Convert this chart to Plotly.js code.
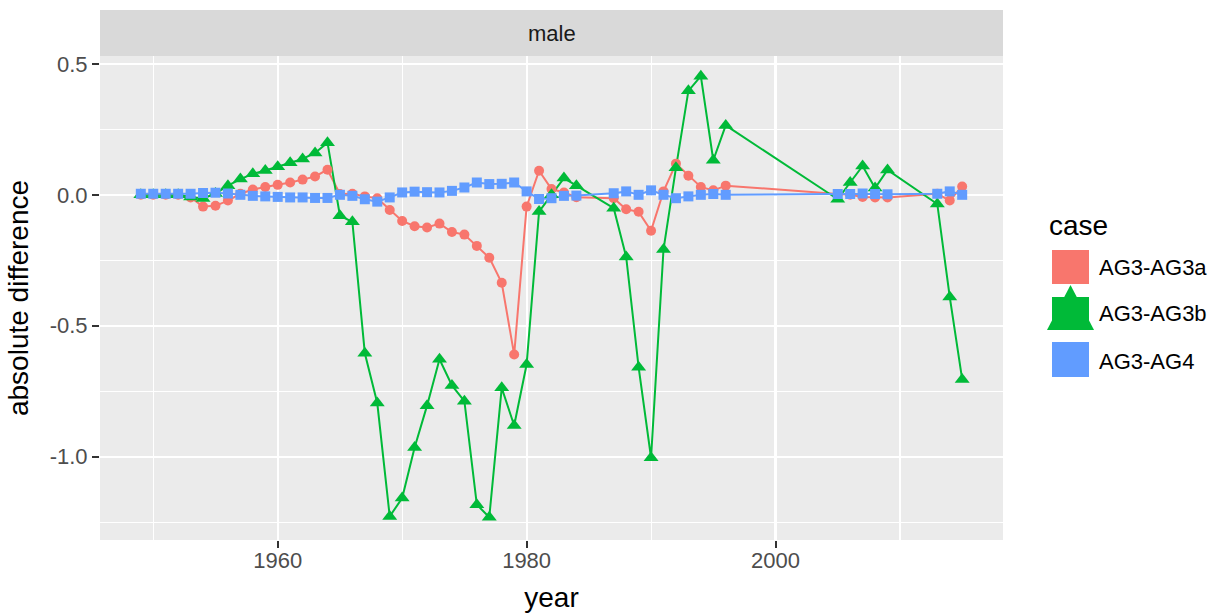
<!DOCTYPE html>
<html>
<head>
<meta charset="utf-8">
<script src="https://cdn.plot.ly/plotly-3.0.1.min.js"></script>
<style>html,body{margin:0;padding:0;background:#fff;}#chart{width:1223px;height:613px;}</style>
</head>
<body>
<div id="chart"></div>
<script>
var years = [1949,1950,1951,1952,1953,1954,1955,1956,1957,1958,1959,1960,1961,1962,1963,1964,
  1965,1966,1967,1968,1969,1970,1971,1972,1973,1974,1975,1976,1977,1978,1979,1980,1981,1982,1983,1984,
  1987,1988,1989,1990,1991,1992,1993,1994,1995,1996,
  2005,2006,2007,2008,2009,2013,2014,2015];

var ag3a = [0,0,0,0,-0.01,-0.045,-0.042,-0.022,0.004,0.02,0.03,0.038,0.047,0.058,0.07,0.096,
  0.003,0.004,-0.006,-0.013,-0.058,-0.1,-0.12,-0.125,-0.11,-0.142,-0.152,-0.195,-0.24,-0.336,-0.61,-0.045,0.092,0.022,0.009,-0.009,
  -0.013,-0.055,-0.065,-0.137,0.013,0.119,0.073,0.03,0.017,0.035,
  0.003,0,-0.008,-0.01,-0.01,0.004,-0.022,0.032];

var ag3b = [0,0,0,0,-0.008,-0.014,0.005,0.035,0.06,0.08,0.093,0.107,0.122,0.137,0.16,0.199,
  -0.08,-0.103,-0.605,-0.795,-1.228,-1.158,-0.965,-0.805,-0.628,-0.728,-0.788,-1.183,-1.231,-0.737,-0.881,-0.648,-0.064,0.0,0.064,0.035,
  -0.051,-0.237,-0.658,-1.004,-0.209,0.103,0.397,0.453,0.132,0.265,
  -0.017,0.047,0.11,0.026,0.095,-0.035,-0.39,-0.705];

var ag4 = [0.004,0.004,0.004,0.004,0.004,0.007,0.008,0.005,0.0,-0.004,-0.006,-0.008,-0.01,-0.01,-0.012,-0.012,
  0.0,-0.004,-0.017,-0.026,-0.01,0.009,0.012,0.01,0.009,0.015,0.028,0.047,0.041,0.042,0.047,0.013,-0.016,-0.013,-0.004,-0.003,
  0.006,0.013,0.0,0.017,0.0,-0.013,-0.006,0.0,0.003,0.0,
  0.003,0.003,0.005,0.003,0.002,0.004,0.013,0.0];

var caseNames = ["AG3-AG3a","AG3-AG3b","AG3-AG4"];
var caseColors = ["#F8766D","#00BA38","#619CFF"];
var caseSymbols = ["circle","triangle-up","square"];
var caseSizes = [10,13,10];
var caseValues = [ag3a, ag3b, ag4];

var xTicks = [1960,1980,2000];
var xMinor = [1950,1970,1990,2010];
var yTicks = [0.5,0,-0.5,-1.0];
var yTickText = ["0.5","0.0","-0.5","-1.0"];
var yMinor = [0.25,-0.25,-0.75,-1.25];
var facetLabel = "male";
var legendTitle = "case";

var FONT = "Liberation Sans, Arial, Helvetica, sans-serif";
var traces = [];
for (var i = 0; i < 3; i++) {
  traces.push({x: years, y: caseValues[i], type: "scatter", mode: "lines",
    line: {color: caseColors[i], width: 2}, showlegend: false, hoverinfo: "skip"});
}
for (var i = 0; i < 3; i++) {
  traces.push({x: years, y: caseValues[i], type: "scatter", mode: "markers", name: caseNames[i],
    marker: {color: caseColors[i], symbol: caseSymbols[i], size: caseSizes[i], line: {width: 0}},
    showlegend: false});
}

var L = 100, R = 1003, T = 56, B = 540;
function px(x) { return (x - L) / (R - L); }
function py(y) { return (B - y) / (B - T); }

var shapes = [
  {type: "rect", xref: "paper", yref: "paper", x0: 0, x1: 1, y0: 1, y1: py(10), fillcolor: "#D9D9D9", line: {width: 0}, layer: "below"},
  {type: "rect", xref: "paper", yref: "paper", x0: px(1052), x1: px(1089), y0: py(284), y1: py(250), fillcolor: caseColors[0], line: {width: 0}},
  {type: "rect", xref: "paper", yref: "paper", x0: px(1052), x1: px(1089), y0: py(329), y1: py(297), fillcolor: caseColors[1], line: {width: 0}},
  {type: "path", xref: "paper", yref: "paper",
    path: "M" + px(1047) + "," + py(330) + " L" + px(1070.5) + "," + py(285) + " L" + px(1094) + "," + py(330) + " Z",
    fillcolor: caseColors[1], line: {width: 0}},
  {type: "rect", xref: "paper", yref: "paper", x0: px(1052), x1: px(1089), y0: py(377), y1: py(342), fillcolor: caseColors[2], line: {width: 0}}
];

var legendY = [267, 313, 361];
var annotations = [
  {text: facetLabel, xref: "paper", yref: "paper", x: 0.5, y: (1 + py(10)) / 2, showarrow: false,
    font: {family: FONT, size: 22, color: "#1A1A1A"}, xanchor: "center", yanchor: "middle"},
  {text: legendTitle, xref: "paper", yref: "paper", x: px(1047), y: py(225), showarrow: false,
    font: {family: FONT, size: 28, color: "#000"}, xanchor: "left", yanchor: "middle"}
];
for (var i = 0; i < 3; i++) {
  annotations.push({text: caseNames[i], xref: "paper", yref: "paper", x: px(1097), y: py(legendY[i]), showarrow: false,
    font: {family: FONT, size: 22, color: "#000"}, xanchor: "left", yanchor: "middle"});
}

var layout = {
  width: 1223, height: 613,
  margin: {l: L, r: 1223 - R, t: T, b: 613 - B, pad: 0},
  paper_bgcolor: "#FFFFFF", plot_bgcolor: "#EBEBEB",
  font: {family: FONT},
  showlegend: false,
  xaxis: {
    range: [1945.72, 2018.28], tickmode: "array", tickvals: xTicks, ticktext: xTicks.map(String),
    showgrid: true, gridcolor: "#FFFFFF", gridwidth: 2.2, zeroline: false, showline: false,
    ticks: "outside", ticklen: 7, tickwidth: 2, tickcolor: "#333333", ticklabelstandoff: -6,
    tickfont: {family: FONT, size: 22, color: "#4D4D4D"},
    minor: {tickmode: "array", tickvals: xMinor, showgrid: true, gridcolor: "#FFFFFF", gridwidth: 1.1, ticks: ""},
    title: {text: "year", font: {family: FONT, size: 28, color: "#000"}, standoff: 14}
  },
  yaxis: {
    range: [-1.318, 0.53], tickmode: "array", tickvals: yTicks, ticktext: yTickText,
    showgrid: true, gridcolor: "#FFFFFF", gridwidth: 2.2, zeroline: false, showline: false,
    ticks: "outside", ticklen: 7, tickwidth: 2, tickcolor: "#333333",
    tickfont: {family: FONT, size: 22, color: "#4D4D4D"},
    minor: {tickmode: "array", tickvals: yMinor, showgrid: true, gridcolor: "#FFFFFF", gridwidth: 1.1, ticks: ""},
    title: {text: "absolute difference", font: {family: FONT, size: 28, color: "#000"}, standoff: 12}
  },
  shapes: shapes,
  annotations: annotations
};

Plotly.newPlot("chart", traces, layout, {staticPlot: true, displayModeBar: false});
</script>
</body>
</html>
